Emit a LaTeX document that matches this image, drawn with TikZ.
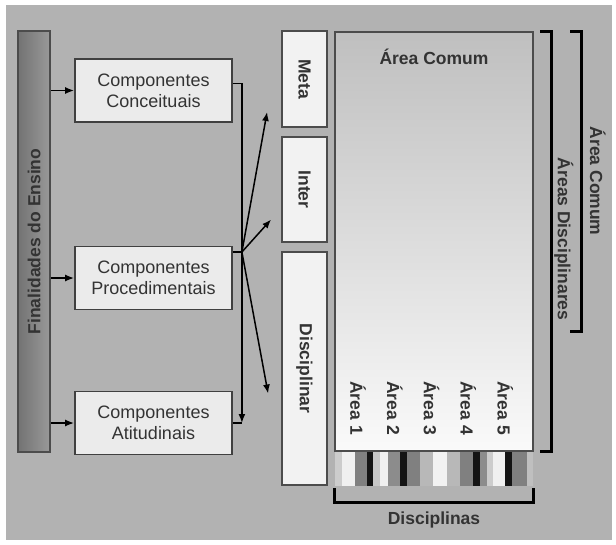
\documentclass[tikz,border=0pt]{standalone}
\usepackage{fontspec}
\setmainfont{Liberation Sans}
\usetikzlibrary{arrows.meta,calc}

\begin{document}
\begin{tikzpicture}[x=1pt,y=-1pt,
  txt/.style={text=black!80,font=\fontsize{18}{21}\selectfont},
  btxt/.style={text=black!80,font=\fontsize{17.5}{20}\selectfont\bfseries},
  comp/.style={txt,draw=black!75,line width=1.8pt,fill=black!8,minimum width=157pt,minimum height=63pt,align=center},
  tab/.style={draw=black!70,line width=1.8pt,fill=black!5,minimum width=45pt,inner sep=0pt},
  arr/.style={line width=1.5pt,-{Latex[length=9pt,width=7pt]}},
  brace/.style={line width=3pt,line cap=rect}]
  \useasboundingbox (0,0) rectangle (616,544);
  \fill[white] (0,0) rectangle (616,544);
  \fill[black!30] (6,5) rectangle (612,540);
  % left column
  \node[draw=black!70,line width=1.8pt,left color=black!55,right color=black!40,minimum width=32pt,minimum height=421pt,
    label={[btxt,rotate=90]center:Finalidades do Ensino}] (fin) at (34,241.5) {};
  \node[comp] (conc) at (153.5,90.5) {Componentes\\Conceituais};
  \node[comp] (proc) at (153.5,278) {Componentes\\Procedimentais};
  \node[comp] (atit) at (153.5,423) {Componentes\\Atitudinais};
  % tabs
  \node[tab,minimum height=96pt,label={[btxt,rotate=-90]center:Meta}] (meta) at (304.5,79) {};
  \node[tab,minimum height=105pt,label={[btxt,rotate=-90]center:Inter}] (inter) at (304.5,189.5) {};
  \node[tab,minimum height=233pt,label={[btxt,rotate=-90]center:Disciplinar}] (disc) at (304.5,368.5) {};
  % disciplines strip
  \foreach \a/\b/\c in {335/342/20,342/355/6,355/367/50,367/373/92,373/380/22,380/388/6,388/400/45,
    400/407/92,407/420/50,420/433/28,433/447/5,447/460/28,460/473/50,473/480/92,480/487/45,
    487/493/20,493/505/6,505/512/92,512/527/50,527/533/25}
    { \fill[black!\c] (\a,451) rectangle (\b,486); }
  \node[draw=black!70,line width=1.8pt,top color=black!25,bottom color=black!2,
    minimum width=198pt,minimum height=419pt,inner sep=0pt] (comum) at (434,241.5) {};
  \node[btxt] (comumlbl) at (434,57) {Área Comum};
  \foreach \i in {1,...,5} { \node[btxt,rotate=-90] (area\i) at ({358+36.8*(\i-1)},408) {Área \i}; }
  % brackets
  \draw[brace] ([xshift=8pt]comum.north east) -- ++(10,0) coordinate (ad1) |- ([xshift=8pt]comum.south east);
  \node[btxt,rotate=-90] (adlbl) at ($(ad1)+(12,208)$) {Áreas Disciplinares};
  \draw[brace] ([xshift=38pt]comum.north east) -- ++(10,0) coordinate (ac1) -- ++(0,300) coordinate (ac2) -- ++(-10,0);
  \node[btxt,rotate=-90] (aclbl) at ($(ac1)!0.5!(ac2)+(16,0)$) {Área Comum};
  \draw[brace] ([yshift=-38pt]comum.south west) -- ++(0,13) -| ([yshift=-38pt]comum.south east);
  \node[btxt] (discs) at ($(comum.south)+(0,68)$) {Disciplinas};
  % connectors
  \foreach \n in {conc,proc,atit} { \draw[arr] (fin.east |- \n.west) -- (\n.west); }
  \draw[arr] ([yshift=7pt]conc.east) -| ([xshift=9pt]atit.east);
  \draw[line width=1.5pt] (atit.east) -- ++(9,0);
  \draw[line width=1.5pt] ([yshift=26pt]proc.east) -- ++(9,0) coordinate (hub);
  \draw[arr] (hub) -- ([xshift=-14pt,yshift=-33pt]meta.west);
  \draw[arr] (hub) -- ([xshift=-10pt,yshift=-30pt]inter.west);
  \draw[arr] (hub) -- ([xshift=-13pt,yshift=-25pt]disc.west);
\end{tikzpicture}
\end{document}
